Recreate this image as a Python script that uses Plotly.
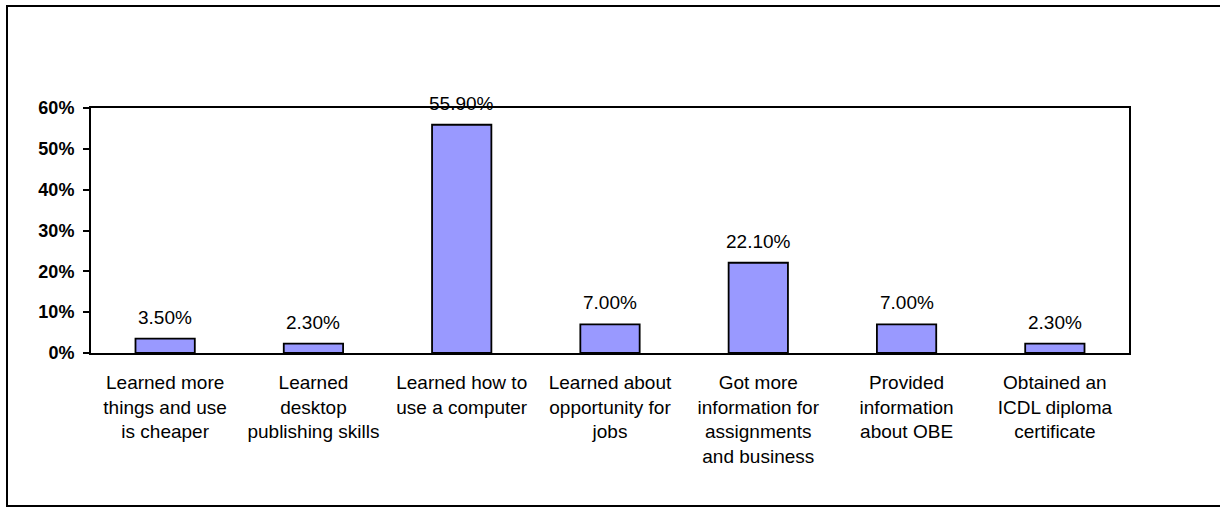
import plotly.graph_objects as go

categories = [
    "Learned more<br>things and use<br>is cheaper",
    "Learned<br>desktop<br>publishing skills",
    "Learned how to<br>use a computer",
    "Learned about<br>opportunity for<br>jobs",
    "Got more<br>information for<br>assignments<br>and business",
    "Provided<br>information<br>about OBE",
    "Obtained an<br>ICDL diploma<br>certificate",
]
values = [3.5, 2.3, 55.9, 7.0, 22.1, 7.0, 2.3]
y_ticks = [0, 10, 20, 30, 40, 50, 60]

W, H = 1220, 508
L, R, T, B = 91, 91, 108, 155
pw, ph = W - L - R, H - T - B

def px_x(p):
    return (p - L) / pw

def px_y(p):
    return (H - B - p) / ph

FONT = "Arial, Liberation Sans, sans-serif"

fig = go.Figure()
fig.add_trace(go.Bar(
    x=categories, y=values,
    marker=dict(color="#9999FF", line=dict(color="black", width=1.8)),
    width=0.4,
    hoverinfo="skip",
))

for c, v in zip(categories, values):
    fig.add_annotation(
        x=c, y=v, text=f"{v:.2f}%", showarrow=False,
        yanchor="bottom", yshift=9,
        font=dict(family=FONT, size=19, color="black"),
    )

fig.add_shape(
    type="rect", xref="paper", yref="paper",
    x0=px_x(7), x1=px_x(1224), y0=px_y(506), y1=px_y(6),
    line=dict(color="black", width=2), layer="below",
)

fig.update_layout(
    width=W, height=H,
    margin=dict(l=L, r=R, t=T, b=B, pad=0),
    paper_bgcolor="white", plot_bgcolor="white",
    showlegend=False,
    font=dict(family=FONT, color="black"),
)
fig.update_xaxes(
    showline=True, linecolor="black", linewidth=2, mirror=True,
    showgrid=False, ticks="outside", ticklen=11, tickcolor="rgba(0,0,0,0)",
    tickfont=dict(family=FONT, size=19, color="black"),
    tickangle=0, automargin=False,
)
fig.update_yaxes(
    range=[0, 60], tickvals=y_ticks, ticktext=[f"{t}%" for t in y_ticks],
    showline=True, linecolor="black", linewidth=2, mirror=True,
    showgrid=False, zeroline=False,
    ticks="outside", ticklen=6, tickwidth=2, tickcolor="black",
    ticklabelstandoff=5,
    tickfont=dict(family=FONT, size=18, color="black", weight="bold"),
    automargin=False,
)

fig.write_html("out.html")
